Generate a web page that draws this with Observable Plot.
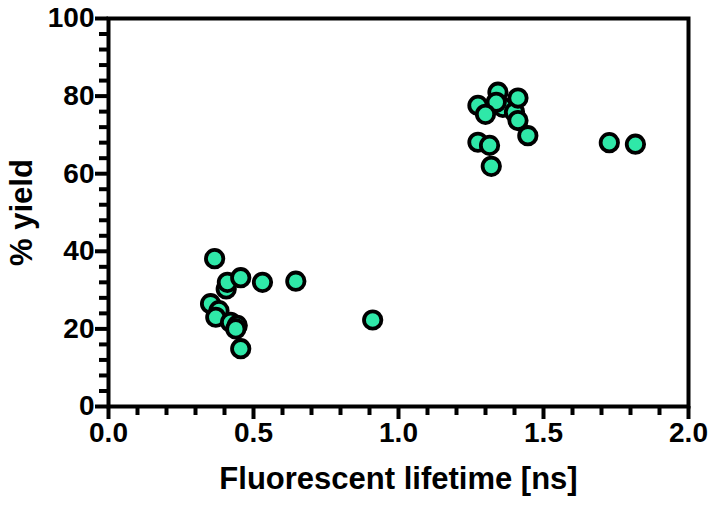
<!DOCTYPE html>
<html>
<head>
<meta charset="utf-8">
<script src="https://cdn.jsdelivr.net/npm/d3@7"></script>
<script src="https://cdn.jsdelivr.net/npm/@observablehq/plot@0.6"></script>
<style>
  html, body { margin: 0; padding: 0; background: #fff; }
  #chart svg { display: block; }
</style>
</head>
<body>
<div id="chart"></div>
<script>
// Fluorescent lifetime (ns) and % yield for each sample
const lifetime = [0.366, 0.352, 0.381, 0.370, 0.406, 0.410, 0.456, 0.531, 0.646, 0.421, 0.444, 0.439, 0.456, 0.911,
                  1.360, 1.400, 1.343, 1.412, 1.274, 1.337, 1.300, 1.412, 1.446, 1.274, 1.314, 1.320, 1.727, 1.817];
const yieldPct = [38.1, 26.5, 24.7, 23.0, 30.3, 32.0, 33.2, 32.0, 32.3, 21.7, 20.9, 20.0, 14.9, 22.3,
                  77.1, 75.9, 81.0, 79.5, 77.6, 78.4, 75.3, 73.7, 69.8, 68.1, 67.3, 61.9, 68.0, 67.6];

const xMajor = [0, 0.5, 1.0, 1.5, 2.0];
const xMinor = [0.1, 0.2, 0.3, 0.4, 0.6, 0.7, 0.8, 0.9, 1.1, 1.2, 1.3, 1.4, 1.6, 1.7, 1.8, 1.9];
const yMajor = [0, 20, 40, 60, 80, 100];
const yMinor = [4, 8, 12, 16, 24, 28, 32, 36, 44, 48, 52, 56, 64, 68, 72, 76, 84, 88, 92, 96];

const xTitle = "Fluorescent lifetime [ns]";
const yTitle = "% yield";

const data = lifetime.map((x, i) => ({x, y: yieldPct[i]}));

const T = 4; // line thickness
const chart = Plot.plot({
  width: 710,
  height: 511,
  marginLeft: 108,
  marginRight: 22,
  marginTop: 18,
  marginBottom: 105,
  style: {fontFamily: "'Liberation Sans', Arial, sans-serif", fontWeight: "bold", fontSize: "28px", color: "black", background: "white"},
  x: {domain: [0, 2]},
  y: {domain: [0, 100]},
  marks: [
    // outward ticks drawn as rules extended past the frame with negative insets
    Plot.ruleX(xMinor, {x: d => d, y1: 0, y2: 0, insetBottom: -9, strokeWidth: T, stroke: "black"}),
    Plot.ruleX(xMajor, {x: d => d, y1: 0, y2: 0, insetBottom: -13, strokeWidth: T, stroke: "black"}),
    Plot.ruleY(yMinor, {y: d => d, x1: 0, x2: 0, insetLeft: -9, strokeWidth: T, stroke: "black"}),
    Plot.ruleY(yMajor, {y: d => d, x1: 0, x2: 0, insetLeft: -13, strokeWidth: T, stroke: "black"}),
    Plot.axisX(xMajor, {tickSize: 12, tickPadding: 4, stroke: "none", tickFormat: d3.format(".1f"), fontSize: 28,
                        label: xTitle, labelAnchor: "center", labelArrow: "none", labelOffset: 82}),
    Plot.axisY(yMajor, {tickSize: 12, tickPadding: 2, stroke: "none", fontSize: 28,
                        label: yTitle, labelAnchor: "center", labelArrow: "none", labelOffset: 99}),
    Plot.frame({stroke: "black", strokeWidth: T}),
    Plot.dot(data, {x: "x", y: "y", r: 8.7, fill: "#2fe8a8", stroke: "black", strokeWidth: 3.8, clip: false})
  ]
});
// axis titles slightly larger than tick labels
chart.querySelectorAll('g[aria-label$="-axis label"] text').forEach(t => t.setAttribute("font-size", 31));
document.getElementById("chart").append(chart);
</script>
</body>
</html>
